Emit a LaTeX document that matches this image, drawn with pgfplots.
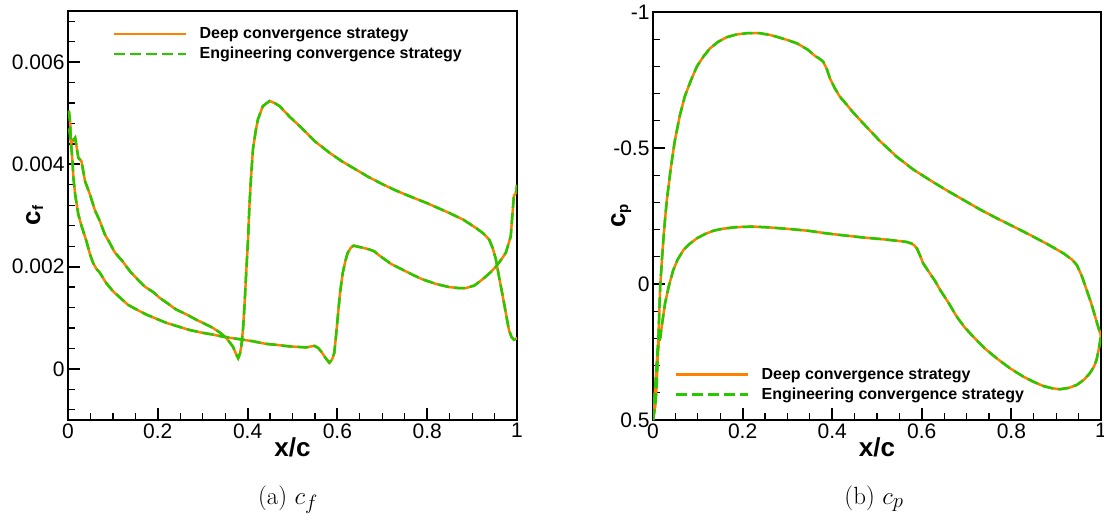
\documentclass[border=0pt]{standalone}
\usepackage{fontspec}
\usepackage{pgfplots}
\usepackage{pgfplotstable}
\pgfplotsset{compat=1.18}
\newfontfamily\arial{Liberation Sans}
\definecolor{deeporange}{RGB}{255,128,0}
\definecolor{enggreen}{RGB}{40,200,0}

\pgfplotstableread{
x cf
0.002 0.00505
0.005 0.00480
0.006 0.00452
0.010 0.00445
0.016 0.00452
0.020 0.00430
0.023 0.00413
0.030 0.00406
0.038 0.00367
0.049 0.00341
0.060 0.00310
0.071 0.00289
0.082 0.00263
0.092 0.00248
0.104 0.00228
0.120 0.00212
0.138 0.00191
0.155 0.00175
0.171 0.00161
0.190 0.00150
0.204 0.00139
0.222 0.00128
0.241 0.00116
0.265 0.00106
0.286 0.00096
0.305 0.00088
0.323 0.00080
0.340 0.00070
0.353 0.00060
0.367 0.00044
0.374 0.00030
0.379 0.00021
0.383 0.00030
0.386 0.00044
0.390 0.00080
0.393 0.00122
0.397 0.00190
0.401 0.00253
0.404 0.00318
0.408 0.00380
0.412 0.00430
0.418 0.00465
0.423 0.00488
0.434 0.00514
0.449 0.00524
0.460 0.00520
0.471 0.00514
0.495 0.00492
0.523 0.00469
0.550 0.00445
0.582 0.00423
0.610 0.00406
0.641 0.00390
0.670 0.00375
0.701 0.00361
0.730 0.00349
0.760 0.00338
0.800 0.00324
0.849 0.00305
0.880 0.00292
0.908 0.00276
0.925 0.00265
0.938 0.00253
0.946 0.00236
0.953 0.00214
0.960 0.00180
0.967 0.00148
0.975 0.00110
0.982 0.00076
0.988 0.00062
0.993 0.00057
1.000 0.00060
}\cfupper

\pgfplotstableread{
x cf
0.003 0.00470
0.007 0.00439
0.010 0.00406
0.012 0.00374
0.016 0.00341
0.023 0.00302
0.030 0.00280
0.034 0.00269
0.041 0.00250
0.045 0.00237
0.049 0.00224
0.056 0.00207
0.063 0.00196
0.071 0.00188
0.085 0.00168
0.100 0.00152
0.115 0.00140
0.134 0.00125
0.155 0.00115
0.175 0.00106
0.197 0.00098
0.219 0.00090
0.245 0.00083
0.271 0.00076
0.297 0.00071
0.323 0.00067
0.345 0.00063
0.367 0.00060
0.390 0.00057
0.412 0.00054
0.440 0.00049
0.464 0.00047
0.493 0.00044
0.530 0.00042
0.549 0.00045
0.557 0.00041
0.564 0.00034
0.573 0.00022
0.582 0.00012
0.588 0.00018
0.593 0.00031
0.597 0.00065
0.601 0.00103
0.606 0.00150
0.612 0.00188
0.618 0.00212
0.623 0.00227
0.630 0.00237
0.636 0.00241
0.646 0.00239
0.656 0.00237
0.670 0.00234
0.682 0.00230
0.690 0.00224
0.701 0.00217
0.720 0.00205
0.745 0.00194
0.770 0.00183
0.790 0.00175
0.820 0.00166
0.849 0.00160
0.870 0.00158
0.886 0.00158
0.905 0.00163
0.923 0.00175
0.940 0.00188
0.953 0.00200
0.965 0.00214
0.975 0.00227
0.986 0.00259
0.993 0.00338
0.998 0.00345
1.000 0.00360
}\cflower

\pgfplotstableread{
x cp
0.000 0.50
0.004 0.40
0.008 0.30
0.012 0.20
0.016 0.01
0.020 -0.09
0.023 -0.16
0.027 -0.24
0.031 -0.31
0.040 -0.43
0.049 -0.53
0.060 -0.62
0.071 -0.69
0.085 -0.75
0.098 -0.80
0.112 -0.835
0.127 -0.866
0.145 -0.890
0.164 -0.907
0.185 -0.917
0.209 -0.922
0.239 -0.922
0.260 -0.916
0.276 -0.909
0.300 -0.897
0.321 -0.885
0.345 -0.862
0.362 -0.838
0.372 -0.828
0.380 -0.817
0.388 -0.790
0.395 -0.756
0.405 -0.722
0.417 -0.689
0.432 -0.660
0.447 -0.630
0.469 -0.591
0.505 -0.528
0.544 -0.468
0.580 -0.422
0.618 -0.382
0.655 -0.345
0.693 -0.309
0.730 -0.274
0.767 -0.242
0.805 -0.211
0.842 -0.180
0.880 -0.147
0.916 -0.113
0.935 -0.090
0.946 -0.070
0.957 -0.030
0.968 0.022
0.978 0.070
0.987 0.120
0.995 0.165
1.000 0.190
}\cpupper

\pgfplotstableread{
x cp
0.000 0.50
0.005 0.45
0.008 0.38
0.011 0.25
0.013 0.21
0.016 0.20
0.020 0.15
0.027 0.07
0.035 0.01
0.045 -0.05
0.055 -0.09
0.068 -0.125
0.080 -0.145
0.090 -0.158
0.098 -0.168
0.115 -0.183
0.135 -0.196
0.155 -0.203
0.179 -0.208
0.200 -0.210
0.224 -0.211
0.260 -0.208
0.313 -0.201
0.350 -0.195
0.388 -0.186
0.430 -0.178
0.469 -0.171
0.510 -0.165
0.544 -0.159
0.565 -0.155
0.577 -0.149
0.583 -0.142
0.589 -0.131
0.596 -0.105
0.603 -0.076
0.618 -0.039
0.630 -0.010
0.641 0.022
0.660 0.070
0.678 0.120
0.696 0.160
0.715 0.194
0.740 0.236
0.767 0.273
0.797 0.310
0.827 0.341
0.850 0.360
0.871 0.375
0.890 0.383
0.908 0.387
0.928 0.382
0.946 0.371
0.962 0.352
0.975 0.328
0.984 0.305
0.990 0.279
0.995 0.240
1.000 0.190
}\cplower

\pgfplotsset{
  panel/.style={
    scale only axis,
    xmin=0, xmax=1,
    tick align=inside,
    tick pos=left,
    xtick={0,0.2,0.4,0.6,0.8,1},
    minor xtick={0.05,0.1,0.15,0.25,0.3,0.35,0.45,0.5,0.55,0.65,0.7,0.75,0.85,0.9,0.95},
    major tick length=12pt,
    minor tick length=7pt,
    every major tick/.append style={line width=2pt, black},
    every minor tick/.append style={line width=1.2pt, black},
    axis line style={line width=2.2pt},
    /pgf/number format/assume math mode=true,
    ticklabel style={font=\arial\fontsize{21}{21}\selectfont},
    xlabel={\arial\bfseries\fontsize{26}{26}\selectfont x/c},
    xlabel style={at={(axis description cs:0.5,-0.042)}, anchor=north, inner sep=0pt},
    ylabel style={at={(axis description cs:-0.062,0.5)}, anchor=base, inner sep=0pt},
    legend cell align=left,
    legend image code/.code={\draw[##1] (0pt,0pt) -- (72pt,0pt);},
    legend style={draw=none, fill=none, inner sep=0pt, column sep=12pt, row sep=5pt,
      nodes={inner sep=0pt, text height=12pt, text depth=3pt},
      font=\arial\bfseries\fontsize{16}{16}\selectfont},
  },
  deep/.style={deeporange, line width=2.5pt, solid},
  eng/.style={enggreen, line width=2.5pt, dash pattern=on 11pt off 5pt},
}

\begin{document}
\begin{tikzpicture}[x=1pt,y=1pt]
\useasboundingbox (0,0) rectangle (1104,-521);

\begin{axis}[panel,
  at={(68pt,-420pt)}, anchor=south west,
  width=449pt, height=409pt,
  ymin=-0.001, ymax=0.007,
  ytick={0,0.002,0.004,0.006},
  minor ytick={-0.0008,-0.0004,0.0004,0.0008,0.0012,0.0016,0.0024,0.0028,0.0032,0.0036,0.0044,0.0048,0.0052,0.0056,0.0064,0.0068},
  scaled y ticks=false,
  yticklabel style={/pgf/number format/fixed, /pgf/number format/precision=3},
  ylabel={\arial\bfseries\fontsize{26}{26}\selectfont c\raisebox{-3pt}{\fontsize{15}{15}\selectfont f}},
  legend style={at={(0.1,0.963)}, anchor=north west},
]
\addplot[deep] table[x=x,y=cf] {\cfupper};
\addlegendentry{Deep convergence strategy}
\addplot[deep, forget plot] table[x=x,y=cf] {\cflower};
\addplot[eng] table[x=x,y=cf] {\cfupper};
\addlegendentry{Engineering convergence strategy}
\addplot[eng, forget plot] table[x=x,y=cf] {\cflower};
\end{axis}

\begin{axis}[panel,
  at={(653pt,-420pt)}, anchor=south west,
  width=448pt, height=408pt,
  ymin=-1, ymax=0.5, y dir=reverse,
  ytick={-1,-0.5,0,0.5},
  minor ytick={-0.9,-0.8,-0.7,-0.6,-0.4,-0.3,-0.2,-0.1,0.1,0.2,0.3,0.4},
  ylabel={\arial\bfseries\fontsize{26}{26}\selectfont c\raisebox{-3pt}{\fontsize{15}{15}\selectfont p}},
  legend style={at={(0.049,0.130)}, anchor=north west},
]
\addplot[deep] table[x=x,y=cp] {\cpupper};
\addlegendentry{Deep convergence strategy}
\addplot[deep, forget plot] table[x=x,y=cp] {\cplower};
\addplot[eng] table[x=x,y=cp] {\cpupper};
\addlegendentry{Engineering convergence strategy}
\addplot[eng, forget plot] table[x=x,y=cp] {\cplower};
\end{axis}

\node[anchor=base, font=\fontsize{24.88}{28}\selectfont] at (288,-504) {(a) $c_f$};
\node[anchor=base, font=\fontsize{24.88}{28}\selectfont] at (874,-504) {(b) $c_p$};
\end{tikzpicture}
\end{document}
